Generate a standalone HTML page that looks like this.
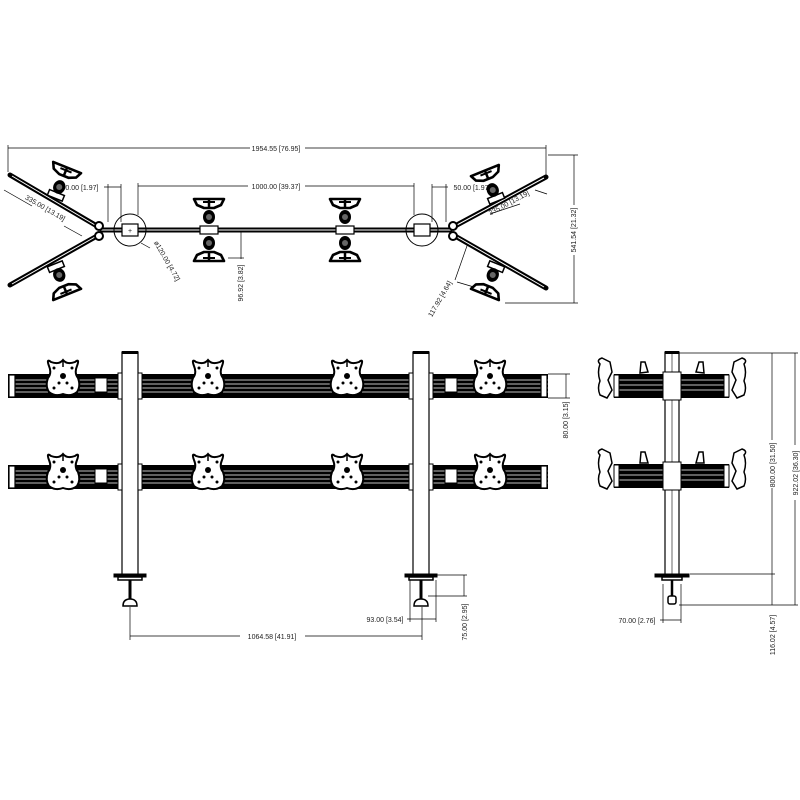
<!DOCTYPE html>
<html><head><meta charset="utf-8"><style>
html,body{margin:0;padding:0;background:#fff;width:800px;height:800px;overflow:hidden}
svg{display:block}
text{font-family:"Liberation Sans",sans-serif;font-size:7px;fill:#222}
</style></head><body>
<svg width="800" height="800" viewBox="0 0 800 800" xmlns="http://www.w3.org/2000/svg">
<defs>
<g id="wing">
  <path d="M-15,-5 L15,-5 L12,1 L5,4 L-5,4 L-12,1 Z" fill="#fff" stroke="#000" stroke-width="2.6" stroke-linejoin="round"/>
  <line x1="-6" y1="-2" x2="6" y2="-2" stroke="#000" stroke-width="2"/>
  <line x1="0" y1="-5" x2="0" y2="4" stroke="#000" stroke-width="2.5"/>
</g>
<g id="ball">
  <ellipse cx="0" cy="0" rx="6" ry="7" fill="#000"/><circle cx="0" cy="0" r="3" fill="#666"/>
</g>
<g id="tmount">
  <use href="#wing" y="-26"/>
  <use href="#ball" y="-13"/>
  <use href="#ball" y="13"/>
  <use href="#wing" transform="translate(0,26) scale(1,-1)"/>
  <rect x="-9" y="-4" width="18" height="8" fill="#fff" stroke="#000" stroke-width="1.2"/>
</g>
<g id="amount">
  <rect x="-8" y="-8" width="16" height="6" fill="#fff" stroke="#000" stroke-width="1.5"/>
  <use href="#ball" y="-14"/>
  <use href="#wing" y="-30"/>
</g>
<g id="plate">
  <path d="M-12,-16 Q-17,-20 -14,-12 Q-11,-5 -15,0 Q-18,8 -14,14 Q-8,19 0,16 Q8,19 14,14 Q18,8 15,0 Q11,-5 14,-12 Q17,-20 12,-16 Q4,-13 0,-18 Q-4,-13 -12,-16 Z" fill="#fff" stroke="#000" stroke-width="2"/>
  <circle cx="0" cy="-2" r="3" fill="#000"/>
  <circle cx="-9" cy="-10" r="1.5" fill="#000"/><circle cx="9" cy="-10" r="1.5" fill="#000"/>
  <circle cx="-9" cy="10" r="1.5" fill="#000"/><circle cx="9" cy="10" r="1.5" fill="#000"/>
  <circle cx="-4" cy="5" r="1.5" fill="#000"/><circle cx="4" cy="5" r="1.5" fill="#000"/>
  <line x1="0" y1="-18" x2="0" y2="-11" stroke="#000" stroke-width="1.5"/>
</g>
<g id="rail">
  <rect x="0" y="0" width="540" height="24" fill="#000"/>
  <line x1="4" y1="6" x2="540" y2="6" stroke="#fff" stroke-width="0.8"/>
  <line x1="4" y1="10" x2="540" y2="10" stroke="#fff" stroke-width="0.8"/>
  <line x1="4" y1="14" x2="540" y2="14" stroke="#fff" stroke-width="0.8"/>
  <line x1="4" y1="18" x2="540" y2="18" stroke="#fff" stroke-width="0.8"/>
  <rect x="1" y="1" width="6" height="22" fill="#fff" stroke="#000" stroke-width="1.2"/>
  <rect x="533" y="1" width="6" height="22" fill="#fff" stroke="#000" stroke-width="1.2"/>
</g>
</defs>

<g stroke="#000" fill="none" stroke-width="0.7">
<line x1="8" y1="148" x2="250" y2="148"/><line x1="305" y1="148" x2="546" y2="148"/>
<line x1="8" y1="145" x2="8" y2="172"/><line x1="546" y1="145" x2="546" y2="176"/>
<line x1="138" y1="186" x2="248" y2="186"/><line x1="305" y1="186" x2="414" y2="186"/>
<line x1="138" y1="183" x2="138" y2="215"/><line x1="414" y1="183" x2="414" y2="215"/>
<line x1="104" y1="187" x2="121" y2="187"/><line x1="108" y1="184" x2="108" y2="222"/><line x1="121" y1="184" x2="121" y2="222"/>
<line x1="432" y1="187" x2="448" y2="187"/><line x1="432" y1="184" x2="432" y2="222"/><line x1="446" y1="184" x2="446" y2="222"/>
<line x1="548" y1="155" x2="578" y2="155"/><line x1="505" y1="303" x2="578" y2="303"/>
<line x1="574" y1="155" x2="574" y2="205"/><line x1="574" y1="255" x2="574" y2="303"/>
<line x1="241" y1="232" x2="241" y2="259"/><line x1="228" y1="258" x2="244" y2="258"/>
<line x1="4" y1="190" x2="32" y2="206"/><line x1="64" y1="226" x2="82" y2="236"/>
<line x1="535" y1="190" x2="547" y2="194"/><line x1="490" y1="214" x2="520" y2="204"/>
<line x1="468" y1="243" x2="455" y2="280"/><line x1="457" y1="282" x2="484" y2="290"/>
<line x1="141" y1="243" x2="150" y2="248"/>
</g>
<text x="276" y="151" text-anchor="middle">1954.55 [76.95]</text>
<text x="276" y="189" text-anchor="middle">1000.00 [39.37]</text>
<text x="80" y="190" text-anchor="middle">50.00 [1.97]</text>
<text x="472" y="190" text-anchor="middle">50.00 [1.97]</text>
<text transform="translate(576,230) rotate(-90)" text-anchor="middle">541.54 [21.32]</text>
<text transform="translate(243,283) rotate(-90)" text-anchor="middle">96.92 [3.82]</text>
<text transform="translate(165,262) rotate(60)" text-anchor="middle">ø120.00 [4.72]</text>
<text transform="translate(44,210) rotate(30)" text-anchor="middle">335.00 [13.19]</text>
<text transform="translate(510,205) rotate(-28)" text-anchor="middle">335.00 [13.19]</text>
<text transform="translate(442,300) rotate(-60)" text-anchor="middle">117.92 [4.64]</text>

<line x1="100" y1="230" x2="452" y2="230" stroke="#000" stroke-width="5"/>
<line x1="100" y1="230" x2="452" y2="230" stroke="#fff" stroke-width="1"/>
<circle cx="130" cy="230" r="16" fill="none" stroke="#000" stroke-width="1"/>
<circle cx="422" cy="230" r="16" fill="none" stroke="#000" stroke-width="1"/>
<rect x="122" y="224" width="16" height="12" fill="#fff" stroke="#000" stroke-width="1.2"/>
<rect x="414" y="224" width="16" height="12" fill="#fff" stroke="#000" stroke-width="1.2"/>
<text x="130" y="233" text-anchor="middle">+</text>
<use href="#tmount" x="209" y="230"/>
<use href="#tmount" x="345" y="230"/>
<g stroke="#000" stroke-linecap="round">
<line x1="10" y1="175" x2="97" y2="226" stroke-width="5"/>
<line x1="10" y1="285" x2="97" y2="236" stroke-width="5"/>
<line x1="546" y1="177" x2="455" y2="226" stroke-width="5"/>
<line x1="546" y1="288" x2="455" y2="236" stroke-width="5"/>
</g>
<g stroke="#fff" stroke-width="1"><line x1="12" y1="176" x2="95" y2="225"/><line x1="12" y1="284" x2="95" y2="237"/><line x1="544" y1="178" x2="457" y2="225"/><line x1="544" y1="287" x2="457" y2="237"/></g>
<circle cx="99" cy="226" r="4" fill="#fff" stroke="#000" stroke-width="2"/>
<circle cx="99" cy="236" r="4" fill="#fff" stroke="#000" stroke-width="2"/>
<circle cx="453" cy="226" r="4" fill="#fff" stroke="#000" stroke-width="2"/>
<circle cx="453" cy="236" r="4" fill="#fff" stroke="#000" stroke-width="2"/>
<use href="#amount" transform="translate(54,200) rotate(22)"/>
<use href="#amount" transform="translate(54,262) rotate(158)"/>
<use href="#amount" transform="translate(498,203) rotate(-22)"/>
<use href="#amount" transform="translate(498,262) rotate(-158)"/>

<use href="#rail" x="8" y="374"/>
<use href="#rail" x="8" y="465"/>
<rect x="122" y="352" width="16" height="223" fill="#fff" stroke="#000" stroke-width="1.2"/>
<rect x="413" y="352" width="16" height="223" fill="#fff" stroke="#000" stroke-width="1.2"/>
<rect x="122" y="351" width="16" height="3" fill="#000"/>
<rect x="413" y="351" width="16" height="3" fill="#000"/>
<g fill="#fff" stroke="#000" stroke-width="1">
<rect x="118" y="373" width="4" height="26"/><rect x="138" y="373" width="4" height="26"/>
<rect x="409" y="373" width="4" height="26"/><rect x="429" y="373" width="4" height="26"/>
<rect x="118" y="464" width="4" height="26"/><rect x="138" y="464" width="4" height="26"/>
<rect x="409" y="464" width="4" height="26"/><rect x="429" y="464" width="4" height="26"/>
<rect x="95" y="378" width="12" height="14"/><rect x="95" y="469" width="12" height="14"/>
<rect x="445" y="378" width="12" height="14"/><rect x="445" y="469" width="12" height="14"/>
</g>
<use href="#plate" x="63" y="378"/><use href="#plate" x="208" y="378"/>
<use href="#plate" x="347" y="378"/><use href="#plate" x="490" y="378"/>
<use href="#plate" x="63" y="472"/><use href="#plate" x="208" y="472"/>
<use href="#plate" x="347" y="472"/><use href="#plate" x="490" y="472"/>
<g stroke="#000" fill="#000">
<rect x="114" y="574" width="32" height="3"/><rect x="118" y="577" width="24" height="3" fill="#fff" stroke-width="1.5"/>
<rect x="405" y="574" width="32" height="3"/><rect x="409" y="577" width="24" height="3" fill="#fff" stroke-width="1.5"/>
<line x1="130" y1="580" x2="130" y2="600" stroke-width="3"/>
<line x1="421" y1="580" x2="421" y2="600" stroke-width="3"/>
<path d="M123,606 Q123,599 130,599 Q137,599 137,606 Z" fill="#fff" stroke-width="1.5"/>
<path d="M414,606 Q414,599 421,599 Q428,599 428,606 Z" fill="#fff" stroke-width="1.5"/>
</g>
<g stroke="#000" fill="none" stroke-width="0.7">
<line x1="130" y1="607" x2="130" y2="640"/><line x1="422" y1="607" x2="422" y2="640"/>
<line x1="130" y1="636" x2="240" y2="636"/><line x1="305" y1="636" x2="422" y2="636"/>
<line x1="410" y1="580" x2="410" y2="622"/><line x1="436" y1="580" x2="436" y2="622"/>
<line x1="407" y1="619" x2="436" y2="619"/>
<line x1="436" y1="575" x2="467" y2="575"/><line x1="428" y1="596" x2="467" y2="596"/>
<line x1="464" y1="575" x2="464" y2="596"/>
<line x1="548" y1="374" x2="570" y2="374"/><line x1="548" y1="398" x2="570" y2="398"/>
<line x1="566" y1="374" x2="566" y2="398"/>
</g>
<text x="272" y="639" text-anchor="middle">1064.58 [41.91]</text>
<text x="385" y="622" text-anchor="middle">93.00 [3.54]</text>
<text transform="translate(467,622) rotate(-90)" text-anchor="middle">75.00 [2.95]</text>
<text transform="translate(568,420) rotate(-90)" text-anchor="middle">80.00 [3.15]</text>

<rect x="665" y="352" width="14" height="223" fill="#fff" stroke="#000" stroke-width="1.2"/>
<line x1="672" y1="352" x2="672" y2="575" stroke="#000" stroke-width="0.6"/>
<rect x="665" y="351" width="14" height="3" fill="#000"/>
<g>
<rect x="614" y="374" width="115" height="24" fill="#000"/>
<rect x="614" y="464" width="115" height="24" fill="#000"/>
<g stroke="#fff" stroke-width="0.8">
<line x1="616" y1="380" x2="727" y2="380"/><line x1="616" y1="385" x2="727" y2="385"/><line x1="616" y1="390" x2="727" y2="390"/>
<line x1="616" y1="470" x2="727" y2="470"/><line x1="616" y1="475" x2="727" y2="475"/><line x1="616" y1="480" x2="727" y2="480"/>
</g>
<g fill="#fff" stroke="#000" stroke-width="1">
<rect x="614" y="375" width="5" height="22"/><rect x="724" y="375" width="5" height="22"/>
<rect x="614" y="465" width="5" height="22"/><rect x="724" y="465" width="5" height="22"/>
<rect x="663" y="372" width="18" height="28"/><rect x="663" y="462" width="18" height="28"/>
</g>
</g>
<g fill="#fff" stroke="#000" stroke-width="1.5">
<path d="M600,364 Q596,360 602,358 L610,362 L612,372 L608,380 L612,390 L607,398 L600,395 Q597,388 600,381 Q597,372 600,364Z"/>
<path d="M744,364 Q748,360 742,358 L734,362 L732,372 L736,380 L732,390 L737,398 L744,395 Q747,388 744,381 Q747,372 744,364Z"/>
<path d="M600,455 Q596,451 602,449 L610,453 L612,463 L608,471 L612,481 L607,489 L600,486 Q597,479 600,472 Q597,463 600,455Z"/>
<path d="M744,455 Q748,451 742,449 L734,453 L732,463 L736,471 L732,481 L737,489 L744,486 Q747,479 744,472 Q747,463 744,455Z"/>
<path d="M641,362 L645,362 L648,372 L640,373 Z"/><path d="M699,362 L703,362 L704,373 L696,372 Z"/>
<path d="M641,452 L645,452 L648,463 L640,463 Z"/><path d="M699,452 L703,452 L704,463 L696,463 Z"/>
</g>
<g stroke="#000" fill="#000">
<rect x="655" y="574" width="34" height="3"/><rect x="662" y="577" width="20" height="3" fill="#fff" stroke-width="1.5"/>
<line x1="672" y1="580" x2="672" y2="596" stroke-width="2.5"/>
<rect x="668" y="596" width="8" height="8" rx="2" fill="#fff" stroke-width="1.5"/>
</g>
<g stroke="#000" fill="none" stroke-width="0.7">
<line x1="679" y1="353" x2="798" y2="353"/><line x1="690" y1="574" x2="775" y2="574"/><line x1="679" y1="605" x2="798" y2="605"/>
<line x1="772" y1="353" x2="772" y2="440"/><line x1="772" y1="488" x2="772" y2="574"/>
<line x1="772" y1="574" x2="772" y2="605"/>
<line x1="795" y1="353" x2="795" y2="445"/><line x1="795" y1="500" x2="795" y2="605"/>
<line x1="663" y1="584" x2="663" y2="623"/><line x1="681" y1="584" x2="681" y2="623"/>
<line x1="660" y1="620" x2="681" y2="620"/>
</g>
<text transform="translate(775,465) rotate(-90)" text-anchor="middle">800.00 [31.50]</text>
<text transform="translate(798,473) rotate(-90)" text-anchor="middle">922.02 [36.30]</text>
<text transform="translate(775,635) rotate(-90)" text-anchor="middle">116.02 [4.57]</text>
<text x="637" y="623" text-anchor="middle">70.00 [2.76]</text>
</svg>
</body></html>
